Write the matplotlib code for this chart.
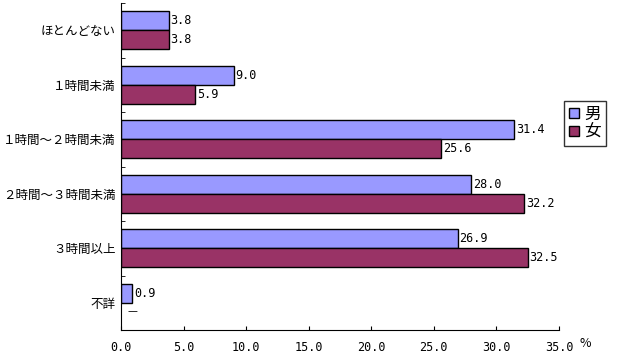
import matplotlib
matplotlib.use("Agg")
import matplotlib.pyplot as plt
import numpy as np

plt.rcParams['font.family'] = ['Noto Sans CJK JP', 'DejaVu Sans']

categories = ["ほとんどない", "１時間未満", "１時間～２時間未満", "２時間～３時間未満", "３時間以上", "不詳"]
male = [3.8, 9.0, 31.4, 28.0, 26.9, 0.9]
female = [3.8, 5.9, 25.6, 32.2, 32.5, None]
series_names = ["男", "女"]

fig = plt.figure(figsize=(6.21, 3.56), dpi=100)
ax = fig.add_axes([121/621, 1-330/356, (559-121)/621, (330-3)/356])

n = len(categories)
y = np.arange(n)
h = 0.35
mc, fc = "#9999FF", "#993366"
for i in range(n):
    ax.barh(y[i] - h/2, male[i], height=h, color=mc, edgecolor="black", linewidth=1,
            label=series_names[0] if i == 0 else None)
    ax.text(male[i] + 0.15, y[i] - h/2, f"{male[i]:.1f}", va="center", ha="left", fontsize=8.5,
            family=['DejaVu Sans Mono'])
    if female[i] is not None:
        ax.barh(y[i] + h/2, female[i], height=h, color=fc, edgecolor="black", linewidth=1,
                label=series_names[1] if i == 0 else None)
        ax.text(female[i] + 0.15, y[i] + h/2, f"{female[i]:.1f}", va="center", ha="left", fontsize=8.5,
                family=['DejaVu Sans Mono'])
    else:
        ax.text(0.5, y[i] + h/2, "—", va="center", ha="left", fontsize=8)

ax.set_ylim(n - 0.5, -0.5)
ax.set_xlim(0, 35)
ax.set_xticks(np.arange(0, 35.1, 5))
ax.set_xticklabels([f"{v:.1f}" for v in np.arange(0, 35.1, 5)], family=['DejaVu Sans Mono'], fontsize=8.5)
ax.set_yticks(y)
ax.set_yticklabels(categories, fontsize=9)
ax.set_yticks(np.arange(-0.5, n, 1), minor=True)
ax.tick_params(axis='y', which='major', length=0, pad=4)
ax.tick_params(axis='y', which='minor', direction='in', length=3)
ax.tick_params(axis='x', direction='in', length=3, pad=8)
for s in ['top', 'right']:
    ax.spines[s].set_visible(False)
ax.text(1.06, -0.04, "%", transform=ax.transAxes, ha="center", va="center", fontsize=9)

leg = ax.legend(loc="upper left", bbox_to_anchor=(564/621, 1-101/356), bbox_transform=fig.transFigure,
                frameon=True, fancybox=False, edgecolor="black", fontsize=12,
                handlelength=0.6, handleheight=0.6, handletextpad=0.3, borderpad=0.3,
                labelspacing=0.05, borderaxespad=0)
leg.get_frame().set_linewidth(1)

fig.savefig("out.png", dpi=100)
